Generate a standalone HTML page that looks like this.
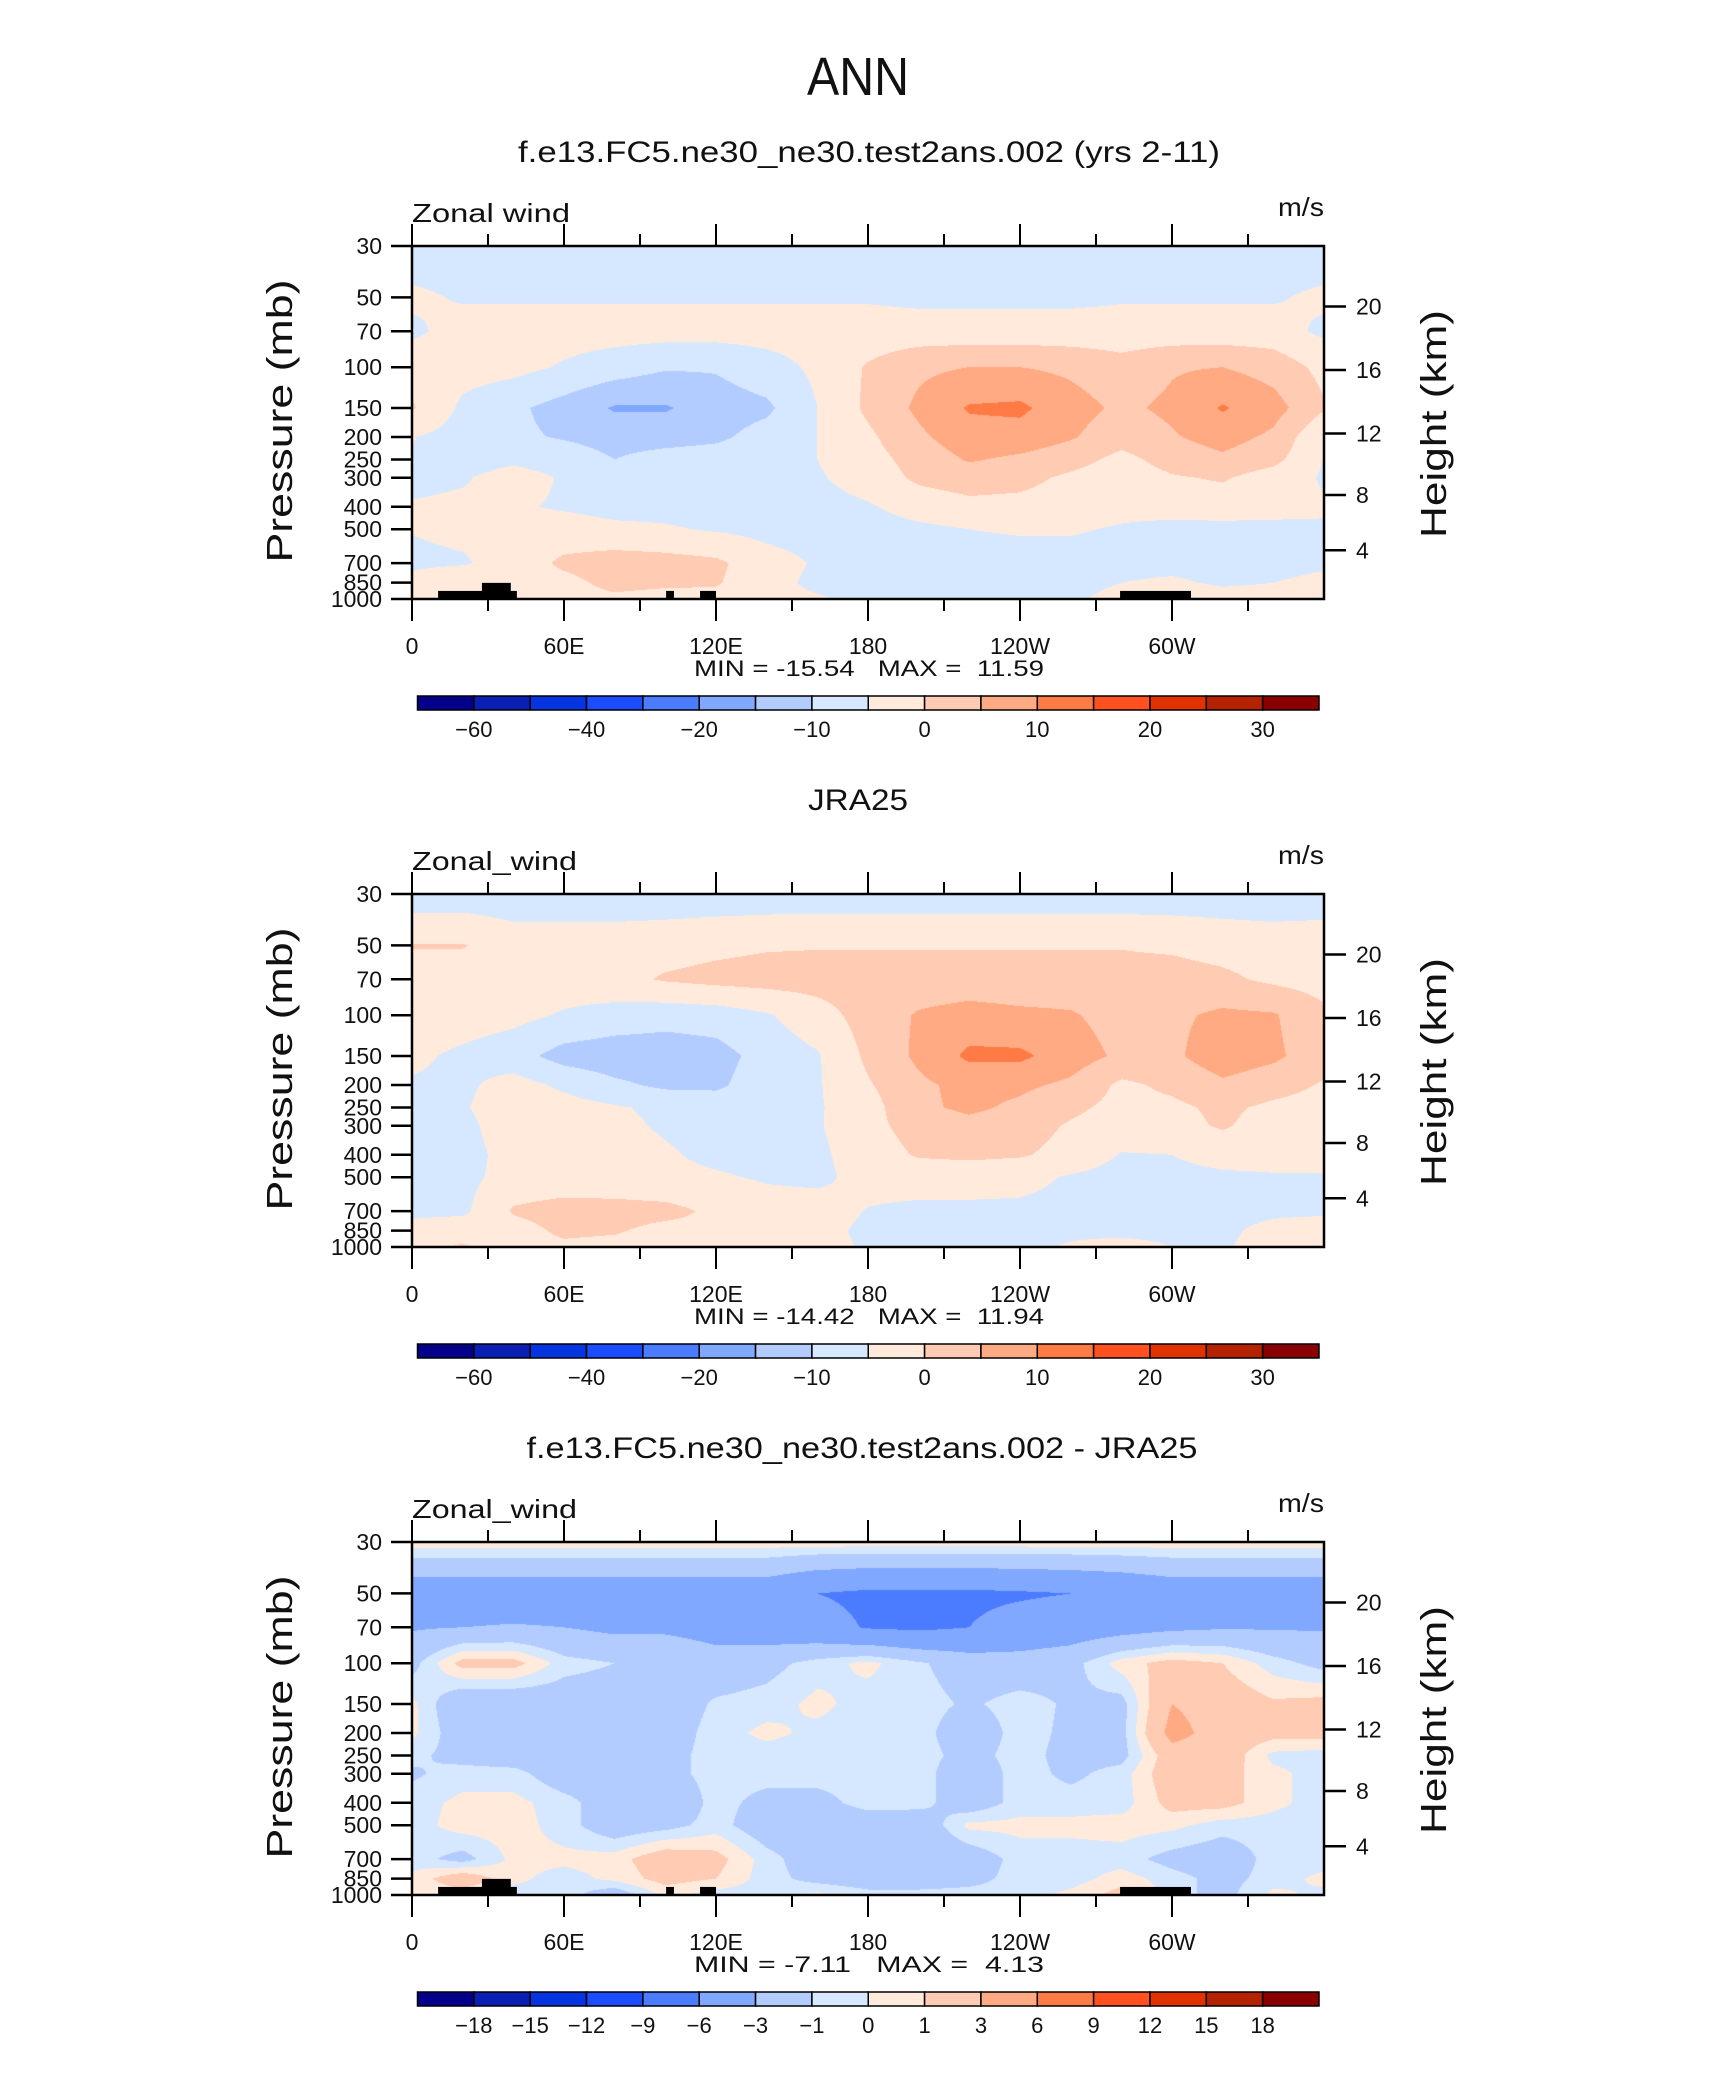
<!DOCTYPE html>
<html><head><meta charset="utf-8">
<style>
html,body{margin:0;padding:0;background:#fff;}
#wrap{position:relative;width:1710px;height:2074px;overflow:hidden;background:#fff;}
canvas{position:absolute;}
svg{position:absolute;left:0;top:0;}
text{font-family:"Liberation Sans",sans-serif;fill:#111;}
.pre{white-space:pre;}
</style></head>
<body>
<div id="wrap">
<canvas id="c0" width="912" height="353" style="left:412px;top:246px"></canvas>
<canvas id="c1" width="912" height="353" style="left:412px;top:894px"></canvas>
<canvas id="c2" width="912" height="353" style="left:412px;top:1542px"></canvas>
<svg id="svg" width="1710" height="2074" xmlns="http://www.w3.org/2000/svg">
<text x="858" y="95" font-size="54" text-anchor="middle" textLength="102" lengthAdjust="spacingAndGlyphs">ANN</text>
<text x="869" y="162" font-size="30" text-anchor="middle" textLength="702" lengthAdjust="spacingAndGlyphs">f.e13.FC5.ne30_ne30.test2ans.002 (yrs 2-11)</text>
<text x="858" y="810" font-size="30" text-anchor="middle" textLength="100" lengthAdjust="spacingAndGlyphs">JRA25</text>
<text x="862" y="1458" font-size="30" text-anchor="middle" textLength="671" lengthAdjust="spacingAndGlyphs">f.e13.FC5.ne30_ne30.test2ans.002 - JRA25</text>
<g id="panels"></g>
</svg>
</div>
<script>
// ---------- data ----------
const lons = [0,20,40,60,80,100,120,140,160,180,200,220,240,260,280,300,320,340,360];
const levels = [30,50,70,100,150,200,250,300,400,500,700,850,1000];
const pTicks = [30,50,70,100,150,200,250,300,400,500,700,850,1000];
const hTicks = [4,8,12,16,20];
const lonLabels = ['0','60E','120E','180','120W','60W'];
const colors = ['#05008a','#0a20b4','#0534e0','#1b4dff','#4b7bff','#80a8ff','#b3ccff','#d6e8ff','#ffeadb','#ffcbb3','#ffaa82','#ff7b45','#ff5020','#e03300','#b52200','#8a0000'];
const levelsAbs = [-60,-50,-40,-30,-20,-15,-10,-5,0,5,10,15,20,25,30];
const levelsDiff = [-18,-15,-12,-9,-6,-3,-1,0,1,3,6,9,12,15,18];
const labelsAbs = ['','-60','','-40','','-20','','-10','','0','','10','','20','','30'];
const labelsDiff = ['','-18','-15','-12','-9','-6','-3','-1','0','1','3','6','9','12','15','18'];
// model zonal wind (rows = pressure levels, cols = lons)
const model = [
[-8,-8,-8,-8,-8,-8,-8,-8,-8,-8,-8,-8,-8,-8,-8,-8,-8,-8,-8],
[-4,-5.5,-5.5,-5.5,-5.5,-5.5,-5.5,-5.5,-5.5,-5.5,-6,-6,-6,-6,-5.5,-5.5,-5.5,-5.5,-4],
[-6,-3,-3,-3,-3,-3,-3,-3,-3,-3,-3,-3,-3,-3,-3,-3,-3,-3,-6],
[-1.5,-3,-3.5,-5.5,-7.5,-9.5,-9.5,-7,-4,0.5,4,5,5,4,2,4.5,5,3,-1.5],
[0.5,-6,-9,-12,-15.5,-15.5,-12.5,-11,-5,1,6,10.5,11,7,4,6,10.5,7,0.5],
[-4.8,-7,-9,-10.5,-12,-12,-11,-8,-5,-1,4,8,8,5.5,2,4.5,7,4,-4.8],
[-5.2,-7,-6,-7,-10,-8,-7.5,-7,-5,-2,2,5.5,4,2,-1.5,2,4,1.5,-5.2],
[-6.5,-5.5,-3,-5.5,-7,-7.5,-7,-6.5,-5.5,-3,1,2.5,1.5,-1,-3,-0.5,0.5,-2.5,-5.5],
[-4.5,-4,-4.5,-5.5,-6.5,-6.5,-7,-7,-6.5,-5.5,-3,-1.5,-1.5,-2.5,-3.5,-3,-2.5,-3,-4.5],
[-4.8,-4,-3.5,-3,-4,-4.5,-5.5,-6.5,-7,-7,-6,-5,-4.5,-4.5,-5.5,-6.5,-6.5,-6.5,-5.5],
[-6,-5.5,-3,1,2.5,2,1,-3,-5.5,-7,-7,-7,-7,-7,-7,-7,-7,-7,-6],
[-3.5,-1,-2,-1.5,1.5,1,0.5,-3.5,-6,-7.5,-9,-9.5,-7,-6,-5,-4,-6,-5,-3.5],
[-2,1,-1,-2,-1,-2,-1.5,-3.5,-4.5,-6,-6.5,-6.5,-6,-5.5,-4,0.5,-2,-2.5,-2]
];
// JRA25 zonal wind
const obs = [
[-8,-8,-8,-8,-8,-8,-8,-8,-8,-8,-8,-8,-8,-8,-8,-8,-8,-8,-8],
[0.3,0.3,-2.5,-2.5,-2.5,-2,-1.2,-0.5,-0.3,-0.3,-0.3,-0.3,-0.3,-0.3,-0.3,-0.8,-1.8,-2.5,-2],
[-3,-3,-3,-2.5,-1.5,0.5,1.5,2,2,2,2,2,2,2,2,2,1,-1,-2],
[-2,-2.5,-3.5,-5.5,-7,-8,-7.5,-5.5,-2,2,5.5,7,6,5.5,3,4,6,5.5,1],
[-4,-6,-8,-12,-13,-13,-12,-8,-5.5,1,6,11,11,7.5,4,4,8,6,2],
[-5.5,-6,-3,-6,-9,-11,-11,-7,-5.5,-0.5,4,6.5,6,4,-1,1,4,2,-0.5],
[-6.5,-5.5,-2,-3,-4.5,-6,-7,-7,-5.5,-2,4,6,4,1,-1.5,-1,1,-1,-2],
[-6,-6.5,-2,-2,-4,-5.5,-6.5,-6.5,-5.5,-1.5,2,3.5,2,-0.5,-2,-1.5,0.5,-2,-2.5],
[-7,-7,-3,-3,-3.5,-4.5,-6,-6.5,-6,-2.5,0.5,1,0.5,-1.5,-5.3,-5,-3,-3,-3],
[-6.5,-6.5,-3,-3,-3.5,-4,-4.5,-5.5,-6,-3.5,-3,-3,-3.5,-5.5,-7,-6.5,-6,-5.5,-5.5],
[-6,-6,0.5,2,2,1.5,-1,-3,-3,-5.2,-6,-6,-6,-6.5,-7,-7,-6.5,-6,-6],
[-3.5,-2,-2,1,0.5,-1.5,-1,-2.5,-3.5,-6,-6.5,-6.5,-6.5,-6,-6.5,-6.5,-6,-3.5,-2],
[-1,0.5,-2,-1,-1.5,-2,-2.5,-3,-3.5,-5.5,-6.5,-6.5,-6,-4.5,-3,-5,-5.5,-3,-1]
];
// model minus JRA25
const diff = [
[0.6,0.6,0.6,0.6,0.6,0.6,0.6,0.6,0.6,0.6,0.6,0.6,0.6,0.6,0.6,0.6,0.6,0.6,0.6],
[-4.65,-4.65,-4.65,-4.65,-4.65,-4.65,-4.65,-4.65,-6,-6.5,-6.5,-6.5,-6.3,-6,-5.5,-4.65,-4.65,-4.65,-4.65],
[-3.2,-3,-2.8,-3,-3.5,-3.5,-4,-4.5,-5,-6.2,-6.5,-6,-5,-4.5,-4,-3.5,-3.2,-3.2,-3.2],
[-1.5,1.5,1.5,-0.5,-1,-1,-2,-1.5,-0.5,0.3,-0.8,-1.8,-2,-1.5,0.5,1.5,1,-0.5,-1.5],
[0.3,-2.5,-2.5,-2,-2,-2,-0.8,-0.5,0.3,-0.5,-0.5,-1.2,-0.5,-1.2,-1.5,3,2,1.2,1.5],
[0.3,-2,-3,-2,-2,-1.8,-0.5,0.3,-0.3,-0.5,-0.5,-2,-0.5,-1.3,-1.5,3.8,2,1.5,1.5],
[-0.7,-1.5,-2,-2,-2,-1.5,-0.5,-0.5,-0.5,-0.5,-0.5,-1.5,-0.5,-1.5,-1.5,2,2,-0.3,-0.5],
[-1.2,-0.5,-0.5,-2,-2,-1.5,-0.5,-0.5,-0.5,-0.5,-0.5,-2,-0.5,-1.3,-0.5,2,1.5,0.3,-0.5],
[-0.5,0.3,0.3,-0.5,-2,-2.5,-0.5,-1.5,-1.5,-0.5,-0.5,-2,-0.5,-0.5,-0.5,1.5,1.5,0.3,-0.5],
[-0.5,0.5,0.5,-0.5,-2,-1.5,-0.5,-2,-2,-2,-2.2,0.3,0.3,0.3,0.5,0.3,-0.5,-0.5,-0.5],
[-0.5,-1.5,0.3,0.3,0.5,2,1.5,-0.5,-2,-2,-2.5,-2,-0.5,-0.5,-0.5,-1.5,-2,-0.5,-0.5],
[0.3,2,0.3,-0.5,0.3,1.5,1,-0.5,-1.5,-2,-2,-1.5,-0.5,-0.5,0.5,-0.5,-1.5,-0.5,0.3],
[0.3,0.3,-0.5,-0.5,-2,0.3,-0.5,-0.5,0.3,-0.5,-0.5,-0.5,-0.5,0.3,1.5,-0.5,-1.5,0.3,-0.3]
];
// topography blocks: lon start, lon end, top pressure
const topoStart = [10.3,27.6,100.3,113.7,279.5];
const topoEnd = [41.4,39,103.4,120,307.5];
const topoTop = [923,852,923,923,923];
const mins = ['-15.54','-14.42','-7.11'];
const maxs = ['11.59','11.94','4.13'];
const varNames = ['Zonal wind','Zonal_wind','Zonal_wind'];

// ---------- axes ----------
const X0 = 412, W = 912, Y0 = 246, H = 353, STEP = 648;
function xOf(lon){ return X0 + lon * W / 360; }
function yOf(p, off){ return off + Y0 + H * Math.log(p / 30) / Math.log(1000 / 30); }
function pOfZ(km){ const z = km * 1000; return z <= 11000 ? 1013.25 * Math.pow(1 - 2.25577e-5 * z, 5.25588) : 226.32 * Math.exp(-(z - 11000) / 6341.6); }
function colorIdx(v, lev){ let k = 0; for (const b of lev) if (v >= b) k++; return k; }
function hex(c){ return [parseInt(c.substr(1,2),16),parseInt(c.substr(3,2),16),parseInt(c.substr(5,2),16)]; }
const rgb = colors.map(hex);

function drawField(cid, grid, lev){
  const cv = document.getElementById(cid), ctx = cv.getContext('2d');
  const img = ctx.createImageData(W, H);
  const ly = levels.map(p => yOf(p, 0) - Y0);
  for (let py = 0; py < H; py++){
    const y = py + 0.5;
    let i = 0; while (i < levels.length - 2 && y > ly[i+1]) i++;
    const t = Math.min(1, Math.max(0, (y - ly[i]) / (ly[i+1] - ly[i])));
    for (let px = 0; px < W; px++){
      const lon = (px + 0.5) * 360 / W;
      let j = 0; while (j < lons.length - 2 && lon > lons[j+1]) j++;
      const s = (lon - lons[j]) / (lons[j+1] - lons[j]);
      const v = (1-t)*((1-s)*grid[i][j] + s*grid[i][j+1]) + t*((1-s)*grid[i+1][j] + s*grid[i+1][j+1]);
      const c = rgb[colorIdx(v, lev)];
      const o = (py * W + px) * 4;
      img.data[o]=c[0]; img.data[o+1]=c[1]; img.data[o+2]=c[2]; img.data[o+3]=255;
    }
  }
  ctx.putImageData(img, 0, 0);
}
drawField('c0', model, levelsAbs);
drawField('c1', obs, levelsAbs);
drawField('c2', diff, levelsDiff);

const NS = 'http://www.w3.org/2000/svg';
const root = document.getElementById('panels');
function mk(tag, attrs, parent){ const e = document.createElementNS(NS, tag); for (const k in attrs) e.setAttribute(k, attrs[k]); parent.appendChild(e); return e; }
function line(g, x1, y1, x2, y2, w){ return mk('line', {x1:x1, y1:y1, x2:x2, y2:y2, stroke:'#000', 'stroke-width':w}, g); }

for (let k = 0; k < 3; k++){
  const off = k * STEP;
  const g = mk('g', {}, root);
  
  
  const top = Y0 + off, bot = Y0 + H + off;
  if (k !== 1){
    for (let i = 0; i < topoStart.length; i++){
      const r = mk('rect', {x:xOf(topoStart[i]), y:yOf(topoTop[i], off), width:xOf(topoEnd[i]) - xOf(topoStart[i]), height:bot - yOf(topoTop[i], off), fill:'#000'}, g);
      
      
    }
  }
  const fr = mk('rect', {x:X0, y:top, width:W, height:H, fill:'none', stroke:'#000', 'stroke-width':2.5}, g);
  
  
  for (let lon = 0; lon < 360; lon += 30){
    const major = lon % 60 === 0, x = xOf(lon);
    line(g, x, top, x, top - (major ? 22 : 12), 2);
    line(g, x, bot, x, bot + (major ? 22 : 12), 2);
  }
  lonLabels.forEach((lab, i) => {
    const t = mk('text', {x:xOf(i*60), y:654 + off, 'font-size':23, 'text-anchor':'middle'}, g);
    t.textContent = lab;
    
    
  });
  pTicks.forEach(p => {
    const y = yOf(p, off);
    line(g, X0 - 21, y, X0, y, 2.5);
    const t = mk('text', {x:382, y:y + 8, 'font-size':23, 'text-anchor':'end'}, g);
    t.textContent = p;
    
    
  });
  hTicks.forEach(h => {
    const y = yOf(pOfZ(h), off);
    line(g, X0 + W, y, X0 + W + 22, y, 2.5);
    const t = mk('text', {x:1356, y:y + 8, 'font-size':23}, g);
    t.textContent = h;
    
    
  });
  const yt = mk('text', {x:292, y:421 + off, 'font-size':36, 'text-anchor':'middle', textLength:283, lengthAdjust:'spacingAndGlyphs', transform:'rotate(-90 292 ' + (421 + off) + ')'}, g);
  yt.textContent = 'Pressure  (mb)';
  
  
  const ht = mk('text', {x:1446, y:424 + off, 'font-size':36, 'text-anchor':'middle', textLength:228, lengthAdjust:'spacingAndGlyphs', transform:'rotate(-90 1446 ' + (424 + off) + ')'}, g);
  ht.textContent = 'Height  (km)';
  
  
  const vn = mk('text', {x:412, y:222 + off, 'font-size':26, textLength:158 + (k ? 7 : 0), lengthAdjust:'spacingAndGlyphs'}, g);
  vn.textContent = varNames[k];
  
  
  const un = mk('text', {x:1324, y:216 + off, 'font-size':26, 'text-anchor':'end', textLength:46, lengthAdjust:'spacingAndGlyphs'}, g);
  un.textContent = 'm/s';
  
  
  const mm = mk('text', {x:869, y:676 + off, 'font-size':22, 'text-anchor':'middle', textLength:350, lengthAdjust:'spacingAndGlyphs', 'class':'pre'}, g);
  mm.textContent = 'MIN = ' + mins[k] + '   MAX =  ' + maxs[k];
  
  
  const cb = mk('g', {}, g);
  
  
  const cbx = 417.5, cbw = (1319 - 417.5) / 16, cby = 696 + off;
  colors.forEach((c, i) => {
    const r = mk('rect', {x:cbx + i*cbw, y:cby, width:cbw, height:14, fill:c, stroke:'#000', 'stroke-width':1.5}, cb);
    
    
  });
  const labs = k === 2 ? labelsDiff : labelsAbs;
  labs.forEach((lab, i) => {
    if (!lab) return;
    const t = mk('text', {x:cbx + i*cbw, y:737 + off, 'font-size':22, 'text-anchor':'middle'}, cb);
    t.textContent = lab.replace('-', '\u2212');
    
    
  });
}
</script>
</body></html>
